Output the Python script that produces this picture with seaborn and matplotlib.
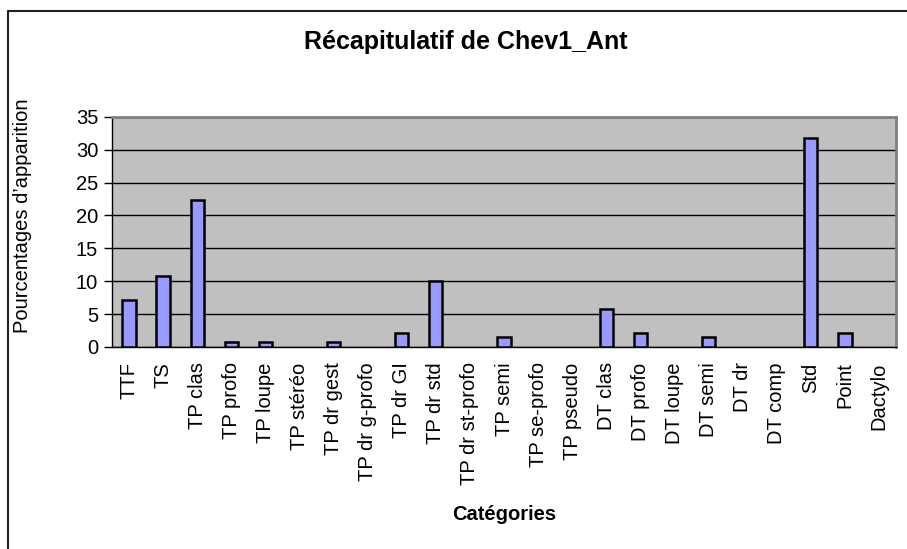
import matplotlib
matplotlib.use('Agg')
import matplotlib.pyplot as plt
from matplotlib.lines import Line2D
import seaborn as sns
import pandas as pd
import numpy as np

categories = ['TTF', 'TS', 'TP clas', 'TP profo', 'TP loupe', 'TP stéréo', 'TP dr gest',
              'TP dr g-profo', 'TP dr GI', 'TP dr std', 'TP dr st-profo', 'TP semi',
              'TP se-profo', 'TP pseudo', 'DT clas', 'DT profo', 'DT loupe', 'DT semi',
              'DT dr', 'DT comp', 'Std', 'Point', 'Dactylo']
pourcentages = [7.2, 10.8, 22.4, 0.7, 0.7, 0, 0.7,
                0, 2.2, 10.1, 0, 1.5,
                0, 0, 5.7, 2.2, 0, 1.5,
                0, 0, 31.8, 2.2, 0]
y_ticks = [0, 5, 10, 15, 20, 25, 30, 35]

df = pd.DataFrame({'cat': categories, 'val': pourcentages})

sns.set_theme(style='white')
plt.rcParams['font.family'] = ['Liberation Sans', 'DejaVu Sans']
plt.rcParams['text.color'] = 'black'
plt.rcParams['axes.labelcolor'] = 'black'
plt.rcParams['xtick.color'] = 'black'
plt.rcParams['ytick.color'] = 'black'

fig = plt.figure(figsize=(9.07, 5.49), dpi=100)
ax = fig.add_axes([112 / 907, 1 - 347 / 549, 784 / 907, 230.3 / 549])
ax.set_facecolor('#C0C0C0')

sns.barplot(data=df, x='cat', y='val', color='#9999FF', saturation=1,
            edgecolor='black', linewidth=1.8, width=0.39, ax=ax, zorder=3)

# pas de barre visible pour les valeurs nulles
for p in ax.patches:
    if p.get_height() == 0:
        p.set_visible(False)

ax.set_ylim(0, 35)
ax.set_xlim(-0.5, len(categories) - 0.5)
ax.set_yticks(y_ticks)
ax.set_yticklabels([str(t) for t in y_ticks], fontsize=14.5)
ax.yaxis.grid(True, color='black', linewidth=1.0, zorder=1)
ax.set_axisbelow(True)

# labels au centre, traits entre les catégories
ax.set_xticks(range(len(categories)))
ax.set_xticklabels(categories, rotation=90, fontsize=14.5)
ax.set_xticks(np.arange(-0.5, len(categories), 1), minor=True)
ax.tick_params(axis='x', which='major', length=0, pad=11)
ax.tick_params(axis='x', which='minor', length=6, width=1, color='black', direction='out')
ax.tick_params(axis='y', length=6, width=1, color='black', direction='out', pad=4, left=True)

for s in ['left', 'bottom']:
    ax.spines[s].set_color('black')
    ax.spines[s].set_linewidth(1.0)
for s in ['top', 'right']:
    ax.spines[s].set_color('#808080')
    ax.spines[s].set_linewidth(2.0)

ax.set_xlabel('Catégories', fontsize=14.5, fontweight='bold')
ax.xaxis.set_label_coords(0.5, (347 - 515) / 230.3)
ax.xaxis.label.set_va('center')
ax.set_ylabel('Pourcentages d’apparition', fontsize=14.5)
ax.yaxis.set_label_coords((23 - 112) / 784, (347 - 216) / 230.3)
ax.yaxis.label.set_va('center')

fig.text(466 / 907, 1 - 42 / 549, 'Récapitulatif de Chev1_Ant', ha='center', va='center',
         fontsize=18, fontweight='bold')

# cadre du graphique
fig.add_artist(Line2D([8 / 907, 8 / 907], [0, 1 - 11 / 549], color='#222222', linewidth=1.5))
fig.add_artist(Line2D([8 / 907, 1], [1 - 11 / 549, 1 - 11 / 549], color='#222222', linewidth=1.5))

fig.savefig('out.png', dpi=100)
